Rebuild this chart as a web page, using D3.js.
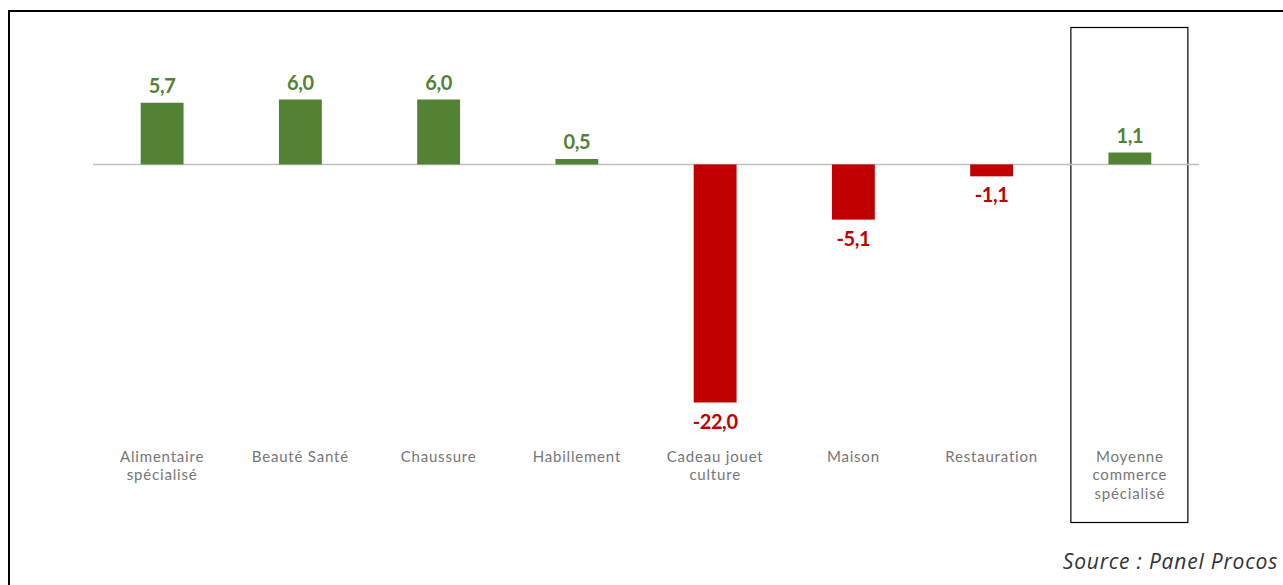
<!DOCTYPE html>
<html>
<head>
<meta charset="utf-8">
<script src="https://cdn.jsdelivr.net/npm/d3@7"></script>
<style>
  body { margin: 0; background: #fff; }
  svg { display: block; }
</style>
</head>
<body>
<div id="chart-area"></div>
<script>
const categories = [
  ["Alimentaire", "spécialisé"],
  ["Beauté Santé"],
  ["Chaussure"],
  ["Habillement"],
  ["Cadeau jouet", "culture"],
  ["Maison"],
  ["Restauration"],
  ["Moyenne", "commerce", "spécialisé"]
];
const values = [5.7, 6.0, 6.0, 0.5, -22.0, -5.1, -1.1, 1.1];
const source = "Source : Panel Procos";

const data = categories.map((c, i) => ({ key: c.join(" "), lines: c, value: values[i] }));

const W = 1283, H = 585;
const svg = d3.select('#chart-area').append('svg')
  .attr('width', W)
  .attr('height', H);

// outer frame
svg.append('rect')
  .attr('x', 9).attr('y', 11)
  .attr('width', W + 20).attr('height', H + 20)
  .attr('fill', 'none')
  .attr('stroke', '#000')
  .attr('stroke-width', 2);

const x = d3.scaleBand()
  .domain(data.map(d => d.key))
  .range([93, 1199])
  .paddingInner(0.69)
  .paddingOuter(0.345);

const y = d3.scaleLinear()
  .domain([-22, 6])
  .range([402.5, 99.5]);

const green = '#548235', red = '#C00000';

// box around the average
const last = data[data.length - 1];
const cx = x(last.key) + x.bandwidth() / 2;
svg.append('rect')
  .attr('x', cx - 59).attr('y', 27.5)
  .attr('width', 117).attr('height', 495)
  .attr('fill', 'none')
  .attr('stroke', '#000')
  .attr('stroke-width', 1.2);

// zero line
svg.append('line')
  .attr('x1', 93).attr('x2', 1199)
  .attr('y1', y(0)).attr('y2', y(0))
  .attr('stroke', '#bfbfbf')
  .attr('stroke-width', 1.5);

svg.selectAll('rect.bar')
  .data(data)
  .enter().append('rect')
    .attr('class', 'bar')
    .attr('x', d => x(d.key))
    .attr('y', d => y(Math.max(0, d.value)))
    .attr('width', x.bandwidth())
    .attr('height', d => Math.abs(y(d.value) - y(0)))
    .attr('fill', d => d.value >= 0 ? green : red);

const fmt = v => v.toFixed(1).replace('.', ',');

svg.selectAll('text.val')
  .data(data)
  .enter().append('text')
    .attr('class', 'val')
    .attr('x', d => x(d.key) + x.bandwidth() / 2)
    .attr('y', d => d.value >= 0 ? y(d.value) - 10 : y(d.value) + 26)
    .attr('text-anchor', 'middle')
    .attr('font-family', 'Lato, sans-serif')
    .attr('font-weight', 'bold')
    .attr('font-size', 20)
    .attr('letter-spacing', -0.4)
    .attr('fill', d => d.value >= 0 ? green : red)
    .text(d => fmt(d.value));

const lab = svg.selectAll('text.cat')
  .data(data)
  .enter().append('text')
    .attr('class', 'cat')
    .attr('text-anchor', 'middle')
    .attr('font-family', 'Lato, sans-serif')
    .attr('font-size', 15)
    .attr('letter-spacing', 0.8)
    .attr('fill', '#767676');

lab.selectAll('tspan')
  .data(d => d.lines.map(l => ({ l, cx: x(d.key) + x.bandwidth() / 2 })))
  .enter().append('tspan')
    .attr('x', d => d.cx)
    .attr('y', (d, i) => 461.5 + i * 18.5)
    .text(d => d.l);

svg.append('text')
  .attr('x', 1278).attr('y', 569)
  .attr('text-anchor', 'end')
  .attr('font-family', '"Open Sans", sans-serif')
  .attr('font-style', 'italic')
  .attr('font-size', 21)
  .attr('letter-spacing', 0.8)
  .attr('fill', '#333')
  .text(source);
</script>
</body>
</html>
